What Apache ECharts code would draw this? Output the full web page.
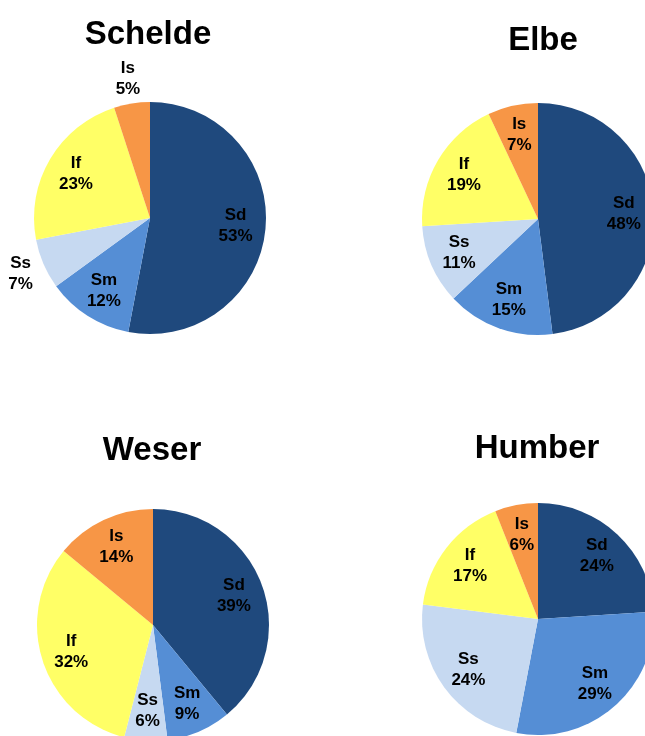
<!DOCTYPE html>
<html>
<head>
<meta charset="utf-8">
<script src="https://cdn.jsdelivr.net/npm/echarts@6/dist/echarts.min.js"></script>
<style>
  html, body { margin: 0; padding: 0; background: #fff; }
  #main { width: 645px; height: 736px; }
</style>
</head>
<body>
<div id="main"></div>
<script>
// sediment classes, clockwise from 12 o'clock
var categories = ['Sd', 'Sm', 'Ss', 'If', 'Is'];
var colors = ['#1F497D', '#558ED5', '#C6D9F1', '#FFFF66', '#F79646'];

// shares in %
var schelde = [53, 12, 7, 23, 5];
var elbe = [48, 15, 11, 19, 7];
var weser = [39, 9, 6, 32, 14];
var humber = [24, 29, 24, 17, 6];

var font = '"Liberation Sans", Arial, sans-serif';
var R = 116;

// one chart = visible pie + transparent ring that holds the labels
function makePie(values, center, outside) {
  outside = outside || [];
  var pie = {
    type: 'pie',
    center: center,
    radius: [0, R],
    startAngle: 90,
    clockwise: true,
    silent: true,
    label: { show: false },
    labelLine: { show: false },
    data: categories.map(function (c, i) {
      return { name: c, value: values[i], itemStyle: { color: colors[i] } };
    })
  };
  function labelRing(r0, r1, pick) {
    return {
      type: 'pie',
      center: center,
      radius: [r0, r1],
      startAngle: 90,
      clockwise: true,
      silent: true,
      z: 5,
      itemStyle: { color: 'rgba(0,0,0,0)' },
      labelLine: { show: false },
      label: {
        position: 'inside',
        formatter: function (p) { return p.name + '\n' + p.value + '%'; },
        color: '#000',
        fontFamily: font,
        fontWeight: 'bold',
        fontSize: 17,
        lineHeight: 21
      },
      data: categories.map(function (c, i) {
        return { name: c, value: values[i], label: { show: pick(c) } };
      })
    };
  }
  var inner = labelRing(50, R, function (c) { return outside.indexOf(c) < 0; });
  var list = [pie, inner];
  if (outside.length) {
    list.push(labelRing(124, 152, function (c) { return outside.indexOf(c) >= 0; }));
  }
  return list;
}

function title(text, x, y) {
  return {
    text: text,
    left: x,
    top: y,
    textAlign: 'center',
    textStyle: { fontFamily: font, fontWeight: 'bold', fontSize: 33, color: '#000' }
  };
}

var chart = echarts.init(document.getElementById('main'), null, { renderer: 'canvas' });

var option = {
  backgroundColor: '#fff',
  animation: false,
  title: [
    title('Schelde', 143, 13),
    title('Elbe', 538, 19),
    title('Weser', 147, 429),
    title('Humber', 532, 427)
  ],
  series: [].concat(
    makePie(schelde, [150, 218], ['Ss', 'Is']),
    makePie(elbe, [538, 219]),
    makePie(weser, [153, 625]),
    makePie(humber, [538, 619])
  )
};

chart.setOption(option);
</script>
</body>
</html>
